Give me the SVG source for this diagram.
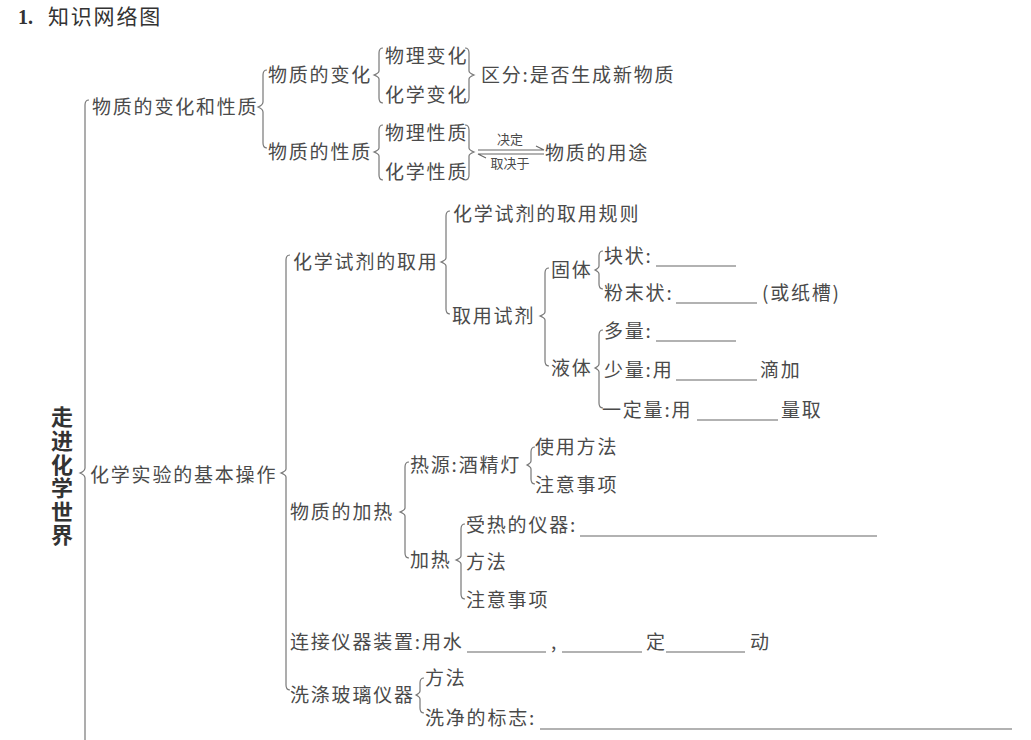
<svg xmlns="http://www.w3.org/2000/svg" width="1031" height="740" viewBox="0 0 1031 740">
<style>
text{font-family:"Noto Sans CJK SC","Liberation Sans",sans-serif;fill:#4a4a4a;}
.t{font-size:19px;letter-spacing:1.8px;}
.s{font-size:13px;text-anchor:middle;}
.br{fill:none;stroke:#777;stroke-width:1.2;}
.ul{stroke:#666;stroke-width:1.1;}
.ar{fill:none;stroke:#666;stroke-width:1.1;}
</style>
<rect width="1031" height="740" fill="#fff"/>
<g id="title">
<text x="18" y="24" style="font-family:'Liberation Serif',serif;font-weight:bold;font-size:20px;fill:#333">1.</text>
<text x="48" y="24" style="font-size:21px;letter-spacing:1.8px;fill:#333">知识网络图</text>
</g>
<g id="connectors">
<path class="br" d="M89 100 Q85 100 85 105 L85 468 Q85 471 80 473 Q85 475 85 478 L85 740"/>
<path class="br" d="M267 70 Q263 70 263 75 L263 102 Q263 105 258 107 Q263 109 263 112 L263 143 Q263 148 267 148"/>
<path class="br" d="M383 48 Q379 48 379 53 L379 71 Q379 73 374 75 Q379 77 379 79 L379 98 Q379 103 383 103"/>
<path class="br" d="M465 48 Q469 48 469 53 L469 71 Q469 73 474 75 Q469 77 469 79 L469 98 Q469 103 465 103"/>
<path class="br" d="M383 125 Q379 125 379 130 L379 148 Q379 150 374 152 Q379 154 379 156 L379 175 Q379 180 383 180"/>
<path class="br" d="M465 125 Q469 125 469 130 L469 148 Q469 150 474 152 Q469 154 469 156 L469 175 Q469 180 465 180"/>
<path class="ar" d="M478 150 L544 150 L536 146"/>
<path class="ar" d="M544 154 L478 154 L486 158"/>
<path class="br" d="M290 255 Q286 255 286 260 L286 469 Q286 471 281 473 Q286 475 286 477 L286 685 Q286 690 290 690"/>
<path class="br" d="M450 211 Q446 211 446 216 L446 258 Q446 260 441 262 Q446 264 446 266 L446 309 Q446 314 450 314"/>
<path class="br" d="M549 268 Q545 268 545 273 L545 312 Q545 314 540 316 Q545 318 545 320 L545 361 Q545 366 549 366"/>
<path class="br" d="M603 251 Q599 251 599 256 L599 266 Q599 268 595 270 Q599 272 599 274 L599 284 Q599 289 603 289"/>
<path class="br" d="M603 330 Q599 330 599 335 L599 364 Q599 366 595 368 Q599 370 599 372 L599 403 Q599 408 603 408"/>
<path class="br" d="M409 462 Q405 462 405 467 L405 508 Q405 510 400 512 Q405 514 405 516 L405 553 Q405 558 409 558"/>
<path class="br" d="M535 447 Q531 447 531 452 L531 461 Q531 463 527 465 Q531 467 531 469 L531 479 Q531 484 535 484"/>
<path class="br" d="M465 524 Q461 524 461 529 L461 556 Q461 558 456 560 Q461 562 461 564 L461 594 Q461 599 465 599"/>
<path class="br" d="M424 678 Q420 678 420 683 L420 691 Q420 693 416 695 Q420 697 420 699 L420 708 Q420 713 424 713"/>
</g>
<g id="n-root"><text x="62" y="406" writing-mode="tb" style="font-size:22px;font-weight:bold;fill:#333;letter-spacing:1.6px">走进化学世界</text></g>
<g id="n-bhxz"><text class="t" x="92" y="114">物质的变化和性质</text></g>
<g id="n-wzbh"><text class="t" x="268" y="82">物质的变化</text></g>
<g id="n-wzxz"><text class="t" x="268" y="159">物质的性质</text></g>
<g id="n-wlbh"><text class="t" x="385" y="63">物理变化</text></g>
<g id="n-hxbh"><text class="t" x="385" y="102">化学变化</text></g>
<g id="n-qf"><text class="t" x="481" y="82">区分:是否生成新物质</text></g>
<g id="n-wlxz"><text class="t" x="385" y="140">物理性质</text></g>
<g id="n-hxxz"><text class="t" x="385" y="179">化学性质</text></g>
<g id="n-jd"><text class="s" x="510" y="144">决定</text><text class="s" x="510" y="168">取决于</text></g>
<g id="n-yt"><text class="t" x="545" y="160">物质的用途</text></g>
<g id="n-jbcz"><text class="t" x="90" y="482">化学实验的基本操作</text></g>
<g id="n-qy"><text class="t" x="293" y="269">化学试剂的取用</text></g>
<g id="n-gz"><text class="t" x="453" y="221">化学试剂的取用规则</text></g>
<g id="n-qysj"><text class="t" x="452" y="323">取用试剂</text></g>
<g id="n-gt"><text class="t" x="551" y="277">固体</text></g>
<g id="n-yt2"><text class="t" x="551" y="375">液体</text></g>
<g id="n-kz"><text class="t" x="604" y="263">块状:</text><line class="ul" x1="656" y1="266" x2="736" y2="266"/></g>
<g id="n-fmz"><text class="t" x="604" y="300">粉末状:</text><line class="ul" x1="676" y1="303" x2="757" y2="303"/><text class="t" x="762" y="300">(或纸槽)</text></g>
<g id="n-dl"><text class="t" x="604" y="338">多量:</text><line class="ul" x1="656" y1="341" x2="736" y2="341"/></g>
<g id="n-sl"><text class="t" x="604" y="377">少量:用</text><line class="ul" x1="676" y1="380" x2="757" y2="380"/><text class="t" x="760" y="377">滴加</text></g>
<g id="n-ydl"><text class="t" x="602" y="417">一定量:用</text><line class="ul" x1="697" y1="420" x2="778" y2="420"/><text class="t" x="781" y="417">量取</text></g>
<g id="n-jr"><text class="t" x="290" y="519">物质的加热</text></g>
<g id="n-ry"><text class="t" x="410" y="472">热源:酒精灯</text></g>
<g id="n-syff"><text class="t" x="535" y="454">使用方法</text></g>
<g id="n-zysx1"><text class="t" x="535" y="492">注意事项</text></g>
<g id="n-jr2"><text class="t" x="410" y="567">加热</text></g>
<g id="n-srdyq"><text class="t" x="466" y="532">受热的仪器:</text><line class="ul" x1="580" y1="536" x2="877" y2="536"/></g>
<g id="n-ff1"><text class="t" x="466" y="569">方法</text></g>
<g id="n-zysx2"><text class="t" x="466" y="607">注意事项</text></g>
<g id="n-lj"><text class="t" x="290" y="649">连接仪器装置:用水</text><line class="ul" x1="467" y1="652" x2="546" y2="652"/><text class="t" x="551" y="649">,</text><line class="ul" x1="562" y1="652" x2="642" y2="652"/><text class="t" x="646" y="649">定</text><line class="ul" x1="666" y1="652" x2="745" y2="652"/><text class="t" x="750" y="649">动</text></g>
<g id="n-xd"><text class="t" x="290" y="702">洗涤玻璃仪器</text></g>
<g id="n-ff2"><text class="t" x="425" y="685">方法</text></g>
<g id="n-bz"><text class="t" x="425" y="725">洗净的标志:</text><line class="ul" x1="540" y1="729" x2="1012" y2="729"/></g>
</svg>
